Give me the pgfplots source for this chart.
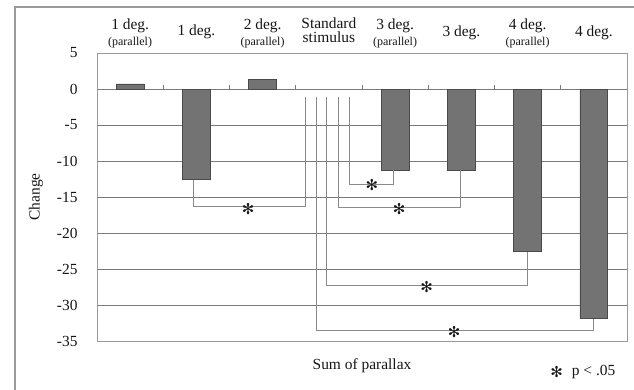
\documentclass[border=0pt]{standalone}
\usepackage{fontspec}
\setmainfont{Liberation Serif}
\newfontfamily\symfont{DejaVu Sans}
\usepackage{pgfplots}
\pgfplotsset{compat=1.18}
\definecolor{barc}{HTML}{737373}
\definecolor{bard}{HTML}{4A4A4A}
\definecolor{gridc}{HTML}{7A7A7A}
\definecolor{brc}{HTML}{8A8A8A}
\definecolor{framec}{HTML}{9A9A9A}
\definecolor{textc}{HTML}{151515}
\newcommand{\bigf}{\fontsize{15.5}{15.5}\selectfont}
\newcommand{\smallf}{\fontsize{12}{12}\selectfont}
\newcommand{\st}{{\symfont\fontsize{15}{15}\selectfont ✻}}
\begin{document}
\begin{tikzpicture}
\draw[framec, line width=1.3bp] (15bp,-5bp) -- (15bp,383bp) -- (650bp,383bp);
\begin{axis}[
  at={(97bp,49bp)}, anchor=south west,
  scale only axis, width=530bp, height=288bp,
  xmin=-0.5, xmax=7.5, ymin=-35, ymax=5,
  xtick=\empty,
  ytick={-35,-30,-25,-20,-15,-10,-5,0,5},
  ymajorgrids,
  grid style={draw=gridc, line width=0.9bp},
  axis line style={draw=framec, line width=0.9bp},
  major tick length=0pt,
  /pgf/number format/assume math mode=true,
  yticklabel style={font=\bigf, text=textc, xshift=-16bp},
  clip=false,
]
\addplot[ybar, bar width=0.42, fill=barc, draw=bard, line width=0.6bp]
  coordinates {(0,0.7) (1,-12.6) (2,1.3) (4,-11.3) (5,-11.3) (6,-22.6) (7,-31.9)};
% tick marks on zero line
\pgfplotsinvokeforeach{0.5,1.5,2.5,3.5,4.5,5.5,6.5}{
  \draw[gridc, line width=0.8bp] (axis cs:#1,0) -- (axis cs:#1,0.55);
}
% significance brackets
\addplot[brc, line width=0.9bp, mark=none] coordinates {(0.95,-12.6) (0.95,-16.35) (2.64,-16.35) (2.64,-1.07)};
\addplot[brc, line width=0.9bp, mark=none] coordinates {(3.31,-1.07) (3.31,-13.2) (3.98,-13.2) (3.98,-11.3)};
\addplot[brc, line width=0.9bp, mark=none] coordinates {(3.14,-1.07) (3.14,-16.4) (4.99,-16.4) (4.99,-11.3)};
\addplot[brc, line width=0.9bp, mark=none] coordinates {(2.97,-1.07) (2.97,-27.3) (5.995,-27.3) (5.995,-22.6)};
\addplot[brc, line width=0.9bp, mark=none] coordinates {(2.806,-1.07) (2.806,-33.5) (7.0,-33.5) (7.0,-31.9)};
\node[text=textc, inner sep=0] at (axis cs:1.78,-16.7) {\st};
\node[text=textc, inner sep=0] at (axis cs:3.65,-13.3) {\st};
\node[text=textc, inner sep=0] at (axis cs:4.06,-16.7) {\st};
\node[text=textc, inner sep=0] at (axis cs:4.475,-27.5) {\st};
\node[text=textc, inner sep=0] at (axis cs:4.89,-33.7) {\st};
% category labels on top
\node[anchor=base, text=textc, font=\bigf, yshift=23.7bp] at (axis cs:0,5) {1 deg.};
\node[anchor=base, text=textc, font=\smallf, yshift=8bp] at (axis cs:0,5) {(parallel)};
\node[anchor=base, text=textc, font=\bigf, yshift=18bp] at (axis cs:1,5) {1 deg.};
\node[anchor=base, text=textc, font=\bigf, yshift=23.7bp] at (axis cs:2,5) {2 deg.};
\node[anchor=base, text=textc, font=\smallf, yshift=8bp] at (axis cs:2,5) {(parallel)};
\node[anchor=base, text=textc, font=\bigf, yshift=25bp] at (axis cs:3,5) {Standard};
\node[anchor=base, text=textc, font=\bigf, yshift=10.3bp] at (axis cs:3,5) {stimulus};
\node[anchor=base, text=textc, font=\bigf, yshift=23.7bp] at (axis cs:4,5) {3 deg.};
\node[anchor=base, text=textc, font=\smallf, yshift=8bp] at (axis cs:4,5) {(parallel)};
\node[anchor=base, text=textc, font=\bigf, yshift=17bp] at (axis cs:5,5) {3 deg.};
\node[anchor=base, text=textc, font=\bigf, yshift=23.7bp] at (axis cs:6,5) {4 deg.};
\node[anchor=base, text=textc, font=\smallf, yshift=8bp] at (axis cs:6,5) {(parallel)};
\node[anchor=base, text=textc, font=\bigf, yshift=17bp] at (axis cs:7,5) {4 deg.};
\end{axis}
\node[rotate=90, text=textc, font=\bigf] at (36bp,193bp) {Change};
\node[text=textc, font=\bigf] at (362bp,24.3bp) {Sum of parallax};
\node[text=textc, inner sep=0] at (556.7bp,18.3bp) {\st};
\node[text=textc, font=\bigf, anchor=west, inner sep=0] at (571.7bp,18.3bp) {p < .05};
\pgfresetboundingbox
\path[use as bounding box] (0,0) rectangle (634bp,390bp);
\end{tikzpicture}
\end{document}
